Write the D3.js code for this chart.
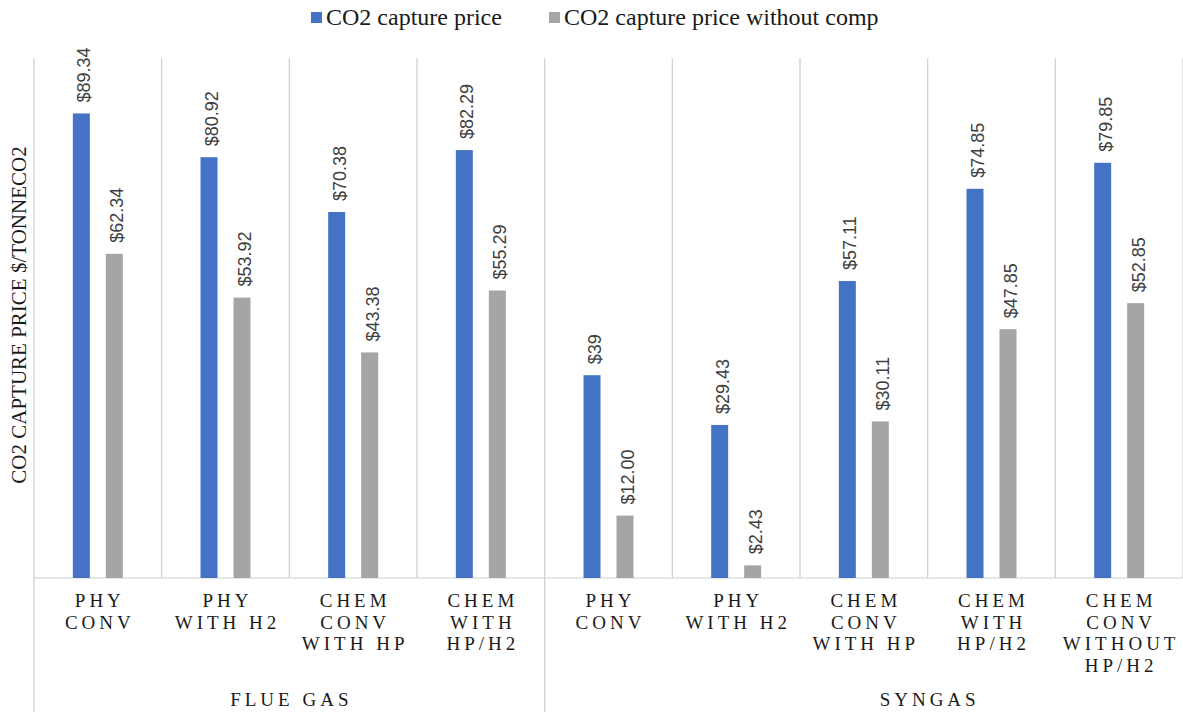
<!DOCTYPE html>
<html>
<head>
<meta charset="utf-8">
<script src="https://cdn.jsdelivr.net/npm/d3@7"></script>
<style>
  body { margin: 0; background: #fff; }
  svg { display: block; }
</style>
</head>
<body>
<svg id="chart" width="1183" height="712"></svg>
<script>
// Category labels ("|" marks a line break), grouped by gas stream
const categories = [
  "PHY|CONV", "PHY|WITH H2", "CHEM|CONV|WITH HP", "CHEM|WITH|HP/H2",
  "PHY|CONV", "PHY|WITH H2", "CHEM|CONV|WITH HP", "CHEM|WITH|HP/H2", "CHEM|CONV|WITHOUT|HP/H2"
];
const groups = ["FLUE GAS", "SYNGAS"];
const groupSizes = [4, 5];

const seriesNames = ["CO2 capture price", "CO2 capture price without comp"];
const capturePrice = [89.34, 80.92, 70.38, 82.29, 39, 29.43, 57.11, 74.85, 79.85];
const capturePriceNoComp = [62.34, 53.92, 43.38, 55.29, 12.00, 2.43, 30.11, 47.85, 52.85];
const seriesColors = ["#4472C4", "#A5A5A5"];

const yDomain = [0, 100];
const yTitle = "CO2 CAPTURE PRICE $/TONNECO2";

// ---- layout ----
const W = 1183, H = 712;
const plot = { left: 34, right: 1183, top: 58, bottom: 578 };
const serif = "'Liberation Serif', 'Times New Roman', serif";
const sans = "'Liberation Sans', Arial, sans-serif";
const gridColor = "#cfcfcf";

const svg = d3.select("#chart");

const x0 = d3.scaleBand()
  .domain(d3.range(categories.length))
  .range([plot.left, plot.right])
  .padding(0);

const x1 = d3.scaleBand()
  .domain([0, 1])
  .range([0, x0.bandwidth()])
  .paddingInner(0.485)
  .paddingOuter(1.177);

const y = d3.scaleLinear().domain(yDomain).range([plot.bottom, plot.top]);

const series = [capturePrice, capturePriceNoComp];
const fmt = [
  v => "$" + (Number.isInteger(v) ? v : v.toFixed(2)),
  v => "$" + v.toFixed(2)
];

// ---- category separators ----
const bounds = d3.range(categories.length + 1).map(i =>
  i < categories.length ? x0(i) : x0(categories.length - 1) + x0.bandwidth());

svg.append("g").selectAll("line")
  .data(bounds)
  .join("line")
  .attr("x1", d => d).attr("x2", d => d)
  .attr("y1", plot.top).attr("y2", plot.bottom)
  .attr("stroke", gridColor).attr("stroke-width", 1.2);

// group separators run down through the label area
const groupStarts = groupSizes.map((n, gi) => d3.sum(groupSizes.slice(0, gi)));
svg.append("g").selectAll("line")
  .data(groupStarts)
  .join("line")
  .attr("x1", d => x0(d)).attr("x2", d => x0(d))
  .attr("y1", plot.bottom).attr("y2", H)
  .attr("stroke", gridColor).attr("stroke-width", 1.2);

// baseline
svg.append("line")
  .attr("x1", plot.left).attr("x2", plot.right)
  .attr("y1", y(0)).attr("y2", y(0))
  .attr("stroke", gridColor).attr("stroke-width", 1.2);

// ---- bars ----
const barData = [];
series.forEach((vals, si) => vals.forEach((v, ci) => barData.push({ si, ci, v })));

svg.append("g").selectAll("rect")
  .data(barData)
  .join("rect")
  .attr("x", d => x0(d.ci) + x1(d.si))
  .attr("width", x1.bandwidth())
  .attr("y", d => y(d.v))
  .attr("height", d => y(0) - y(d.v))
  .attr("fill", d => seriesColors[d.si]);

// ---- value labels ----
svg.append("g").selectAll("text")
  .data(barData)
  .join("text")
  .attr("transform", d =>
    `translate(${x0(d.ci) + x1(d.si) + x1.bandwidth() / 2},${y(d.v) - 11}) rotate(-90)`)
  .attr("dy", "0.5em")
  .attr("text-anchor", "start")
  .attr("font-family", sans)
  .attr("font-size", 18)
  .attr("fill", "#404040")
  .text(d => fmt[d.si](d.v));

// ---- category labels ----
const catLS = 4;
const catSize = 19;
const catLabels = svg.append("g").selectAll("text")
  .data(categories)
  .join("text")
  .attr("x", (d, i) => x0(i) + x0.bandwidth() / 2 + catLS / 2)
  .attr("y", 607)
  .attr("text-anchor", "middle")
  .attr("font-family", serif)
  .attr("font-size", catSize)
  .attr("letter-spacing", catLS)
  .attr("fill", "#1a1a1a");

catLabels.each(function (d, i) {
  const t = d3.select(this);
  d.split("|").forEach((line, li) => {
    t.append("tspan")
      .attr("x", x0(i) + x0.bandwidth() / 2 + catLS / 2)
      .attr("dy", li === 0 ? 0 : 21.5)
      .text(line);
  });
});

// ---- group labels ----
svg.append("g").selectAll("text")
  .data(groups)
  .join("text")
  .attr("x", (d, gi) => x0(groupStarts[gi] + Math.ceil(groupSizes[gi] / 2)) + catLS / 2)
  .attr("y", 706)
  .attr("text-anchor", "middle")
  .attr("font-family", serif)
  .attr("font-size", catSize)
  .attr("letter-spacing", catLS)
  .attr("fill", "#1a1a1a")
  .text(d => d);

// ---- y axis title ----
svg.append("text")
  .attr("transform", `translate(25.5,${(plot.top + plot.bottom) / 2 - 3}) rotate(-90)`)
  .attr("text-anchor", "middle")
  .attr("font-family", serif)
  .attr("font-size", 21)
  .attr("fill", "#1a1a1a")
  .text(yTitle);

// ---- legend ----
const legendX = [311, 549];
const legend = svg.append("g").selectAll("g")
  .data(seriesNames)
  .join("g")
  .attr("transform", (d, i) => `translate(${legendX[i]},0)`);

legend.append("rect")
  .attr("x", 0).attr("y", 12)
  .attr("width", 11).attr("height", 11)
  .attr("fill", (d, i) => seriesColors[i]);

legend.append("text")
  .attr("x", 15).attr("y", 24.5)
  .attr("font-family", serif)
  .attr("font-size", 24)
  .attr("fill", "#1a1a1a")
  .text(d => d);
</script>
</body>
</html>
